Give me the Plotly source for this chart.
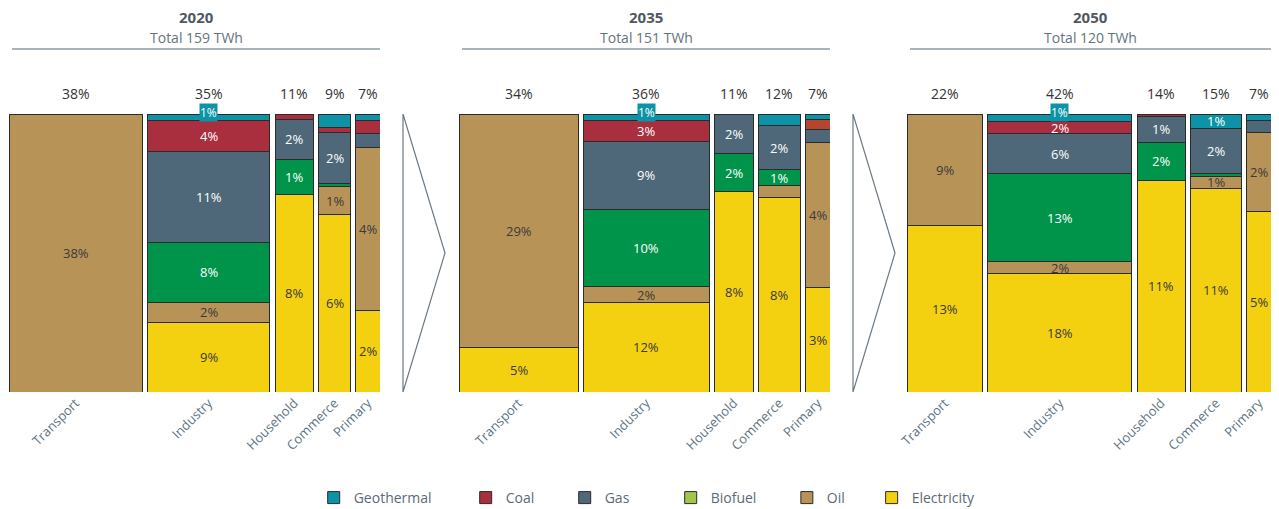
import plotly.graph_objects as go

# ---------------- data ----------------
sectors = ["Transport", "Industry", "Household", "Commerce", "Primary"]
years = ["2020", "2035", "2050"]
totals_twh = [159, 151, 120]
# share of total final energy per sector (column widths), %
sector_share = [
    [38, 35, 11, 9, 7],
    [34, 36, 11, 12, 7],
    [22, 42, 14, 15, 7],
]
# share of total final energy by fuel within each sector, % (per year)
geothermal = [[0, 0.8, 0, 0.45, 0.16], [0, 0.9, 0.03, 0.5, 0.15], [0, 1.2, 0, 0.8, 0.16]]
coal = [[0, 3.9, 0.2, 0.16, 0.34], [0, 2.6, 0, 0, 0.24], [0, 1.8, 0.12, 0, 0]]
gas = [[0, 11.45, 1.6, 1.65, 0.35], [0, 8.9, 1.55, 1.9, 0.33], [0, 6.0, 1.29, 2.4, 0.3]]
biofuel = [[0, 7.6, 1.4, 0.1, 0], [0, 10.0, 1.5, 0.7, 0], [0, 13.3, 1.93, 0.15, 0]]
oil = [[38, 2.45, 0, 0.9, 4.1], [28.6, 2.0, 0, 0.5, 3.65], [8.8, 1.8, 0, 0.65, 2.0]]
electricity = [[0, 8.8, 7.8, 5.74, 2.05], [5.4, 11.6, 7.92, 8.4, 2.63], [13.2, 17.9, 10.66, 11.0, 4.54]]

# ---------------- style ----------------
FONT = "Open Sans"
GAP = 1.5
fuels = [  # bottom -> top stacking order
    dict(name="Electricity", data=electricity, color="#f3d010", txt="#3a3a3a", rank=6),
    dict(name="Oil", data=oil, color="#b89358", txt="#3a3a3a", rank=5),
    dict(name="Biofuel", data=biofuel, color="#00934a", txt="#ffffff", rank=4, legend_color="#a3c64a"),
    dict(name="Gas", data=gas, color="#4e6879", txt="#ffffff", rank=3),
    dict(name="Coal", data=coal, color="#a92e3e", txt="#ffffff", rank=2),
    dict(name="Geothermal", data=geothermal, color="#0c93a5", txt="#ffffff", rank=1),
]
pad = {"Geothermal": 8, "Coal": 7, "Gas": 10, "Biofuel": 7, "Oil": 6, "Electricity": 0}

# panel pixel spans (left, right) in a 1279 px wide page
W, H = 1279, 509
panels_px = [(9, 380), (459, 830), (907, 1271)]
ybot_px, ytop_px = 392, 114

fig = go.Figure()
annotations = []
shapes = []

for p in range(3):
    xa = "x" if p == 0 else f"x{p+1}"
    shares = sector_share[p]
    centers = []
    left = 0.0
    for w in shares:
        centers.append(left + w / 2)
        left += w + GAP
    col_tot = [sum(f["data"][p][i] for f in fuels) for i in range(len(sectors))]
    base = [0.0] * len(sectors)
    for f in fuels:
        vals = f["data"][p]
        ys = [v / t * 100 for v, t in zip(vals, col_tot)]
        colors = [f["color"]] * len(sectors)
        if f["name"] == "Coal" and p == 1:
            colors[4] = "#b6452f"
        fig.add_trace(go.Bar(
            x=centers, y=ys, width=shares, name=f["name"],
            marker=dict(color=colors, line=dict(color="#2b2b2b", width=1)),
            xaxis=xa, yaxis="y", legendgroup=f["name"], legendrank=f["rank"],
            showlegend=(p == 0 and "legend_color" not in f),
            hoverinfo="skip",
        ))
        for i, (v, h) in enumerate(zip(vals, ys)):
            if v >= 0.6:
                label = f"{int(v + 0.5)}%"
                if f["name"] == "Geothermal" and h < 4:
                    annotations.append(dict(
                        x=centers[i], y=100, xref=xa, yref="y", text=label,
                        xanchor="center", yanchor="middle", yshift=2,
                        showarrow=False, bgcolor=f["color"], borderpad=0,
                        font=dict(family=FONT, size=12, color="#ffffff"),
                    ))
                else:
                    annotations.append(dict(
                        x=centers[i], y=base[i] + h / 2, xref=xa, yref="y", text=label,
                        xanchor="center", yanchor="middle",
                        showarrow=False, font=dict(family=FONT, size=13, color=f["txt"]),
                    ))
            base[i] += h
    # column totals above bars
    for i, s in enumerate(shares):
        annotations.append(dict(
            x=centers[i], y=100, xref=xa, yref="y", text=f"{s}%", showarrow=False,
            xanchor="center", yanchor="middle", yshift=21,
            font=dict(family=FONT, size=14, color="#333333"),
        ))
    # headings
    l, r = panels_px[p]
    cx = (l + 3 + r) / 2 / W
    annotations.append(dict(x=cx, y=(H - 17) / H, xref="paper", yref="paper",
                            xanchor="center", yanchor="middle",
                            text=f"<b>{years[p]}</b>", showarrow=False,
                            font=dict(family=FONT, size=15, color="#4f5961")))
    annotations.append(dict(x=cx, y=(H - 38) / H, xref="paper", yref="paper",
                            xanchor="center", yanchor="middle",
                            text=f"Total {totals_twh[p]} TWh", showarrow=False,
                            font=dict(family=FONT, size=14, color="#66737c")))
    shapes.append(dict(type="line", xref="paper", yref="paper",
                       x0=(l + 3) / W, x1=r / W, y0=(H - 49) / H, y1=(H - 49) / H,
                       line=dict(color="#8d9ba5", width=1.5)))
    # axis
    fig.update_layout(**{
        ("xaxis" if p == 0 else f"xaxis{p+1}"): dict(
            domain=[l / W, r / W], range=[0, 100 + 4 * GAP], anchor="y",
            tickmode="array", tickvals=centers, ticktext=sectors, tickangle=-45,
            showgrid=False, zeroline=False, showline=False, ticks="", automargin=False,
            tickfont=dict(family=FONT, size=13, color="#5e7383"), fixedrange=True,
        )
    })
    # chevron arrow to next panel
    if p < 2:
        ax0 = (r + 23) / W
        ax1 = (r + 65) / W
        shapes.append(dict(type="path", xref="paper", yref="y",
                           path=f"M {ax0},0 L {ax0},100 L {ax1},50 Z",
                           line=dict(color="#6b7a85", width=1.2), fillcolor="rgba(0,0,0,0)"))

# legend-only entry for Biofuel (legend swatch colour differs from bars)
fig.add_trace(go.Bar(x=[None], y=[None], name="Biofuel", legendrank=4, legendgroup="Biofuel",
                     marker=dict(color="#a3c64a", line=dict(color="#2b2b2b", width=1)),
                     xaxis="x", yaxis="y", showlegend=True))

for tr in fig.data:
    if tr.showlegend:
        tr.name = tr.name + "\u00a0" * pad[tr.name]

fig.update_layout(
    width=W, height=H, autosize=False,
    margin=dict(l=0, r=0, t=0, b=0, autoexpand=False),
    paper_bgcolor="white", plot_bgcolor="white",
    barmode="stack",
    yaxis=dict(domain=[(H - ybot_px) / H, (H - ytop_px) / H], range=[0, 100],
               visible=False, fixedrange=True, automargin=False),
    legend=dict(orientation="h", x=0.506, xanchor="center", y=(H - 498) / H, yanchor="middle",
                font=dict(family=FONT, size=14, color="#5a6b78"), traceorder="normal",
                bgcolor="rgba(0,0,0,0)"),
    annotations=annotations, shapes=shapes,
    showlegend=True,
)

fig.write_html("out.html")
